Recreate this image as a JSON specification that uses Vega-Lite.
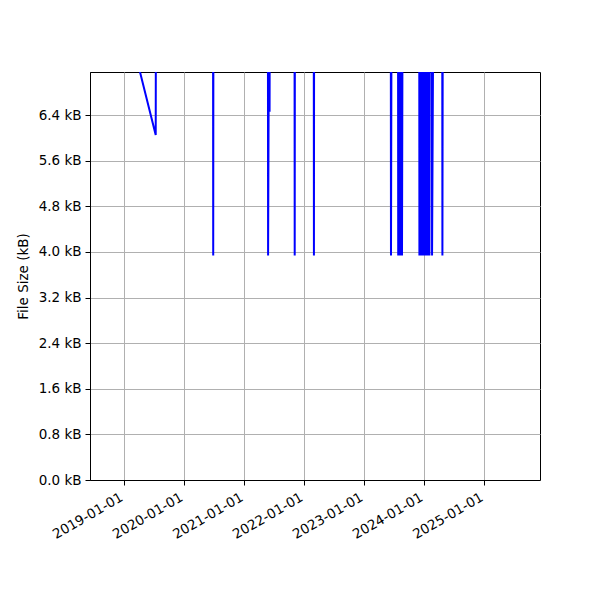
{
  "$schema": "https://vega.github.io/schema/vega-lite/v6.json",
  "width": 450,
  "height": 408,
  "autosize": {"type": "none"},
  "padding": {"left": 90, "top": 72, "right": 60, "bottom": 120},
  "background": "white",
  "config": {
    "view": {"stroke": "black", "strokeWidth": 1},
    "font": "DejaVu Sans",
    "axis": {
      "labelFont": "DejaVu Sans",
      "titleFont": "DejaVu Sans",
      "labelFontSize": 13.5,
      "titleFontSize": 13.5,
      "titleFontWeight": "normal",
      "labelColor": "black",
      "titleColor": "black",
      "domainColor": "black",
      "tickColor": "black",
      "tickSize": 5,
      "gridColor": "#b0b0b0",
      "gridWidth": 1,
      "gridOpacity": 1
    }
  },
  "data": {
    "values": [
      {"date": "2019-01-25", "size": 8.0},
      {"date": "2019-07-13", "size": 6.05},
      {"date": "2019-07-14", "size": 8.0},
      {"date": "2020-06-26", "size": 8.0},
      {"date": "2020-06-27", "size": 3.935},
      {"date": "2020-06-28", "size": 8.0},
      {"date": "2021-05-26", "size": 8.0},
      {"date": "2021-05-27", "size": 3.935},
      {"date": "2021-06-01", "size": 8.0},
      {"date": "2021-06-05", "size": 6.458},
      {"date": "2021-06-06", "size": 8.0},
      {"date": "2021-11-04", "size": 8.0},
      {"date": "2021-11-05", "size": 3.935},
      {"date": "2021-11-06", "size": 8.0},
      {"date": "2022-03-01", "size": 8.0},
      {"date": "2022-03-02", "size": 3.935},
      {"date": "2022-03-03", "size": 8.0},
      {"date": "2023-06-13", "size": 8.0},
      {"date": "2023-06-14", "size": 3.935},
      {"date": "2023-06-17", "size": 8.0},
      {"date": "2023-07-27", "size": 8.0},
      {"date": "2023-07-28", "size": 3.935},
      {"date": "2023-07-30", "size": 8.0},
      {"date": "2023-08-04", "size": 3.935},
      {"date": "2023-08-06", "size": 8.0},
      {"date": "2023-08-12", "size": 3.935},
      {"date": "2023-08-14", "size": 8.0},
      {"date": "2023-08-20", "size": 3.935},
      {"date": "2023-08-23", "size": 8.0},
      {"date": "2023-12-03", "size": 8.0},
      {"date": "2023-12-04", "size": 3.935},
      {"date": "2023-12-07", "size": 8.0},
      {"date": "2023-12-13", "size": 3.935},
      {"date": "2023-12-16", "size": 8.0},
      {"date": "2023-12-22", "size": 3.935},
      {"date": "2023-12-25", "size": 8.0},
      {"date": "2024-01-01", "size": 3.935},
      {"date": "2024-01-04", "size": 8.0},
      {"date": "2024-01-10", "size": 3.935},
      {"date": "2024-01-13", "size": 8.0},
      {"date": "2024-01-19", "size": 3.935},
      {"date": "2024-01-22", "size": 8.0},
      {"date": "2024-01-28", "size": 3.935},
      {"date": "2024-01-31", "size": 8.0},
      {"date": "2024-02-03", "size": 3.935},
      {"date": "2024-02-05", "size": 8.0},
      {"date": "2024-02-18", "size": 8.0},
      {"date": "2024-02-19", "size": 3.935},
      {"date": "2024-02-26", "size": 8.0},
      {"date": "2024-04-21", "size": 8.0},
      {"date": "2024-04-22", "size": 3.935},
      {"date": "2024-04-24", "size": 8.0},
      {"date": "2024-06-01", "size": 8.0}
    ]
  },
  "mark": {"type": "line", "color": "#0000ff", "strokeWidth": 2, "clip": true},
  "encoding": {
    "x": {
      "field": "date",
      "type": "temporal",
      "scale": {
        "type": "utc",
        "domain": [
          {"year": 2018, "month": 6, "date": 8, "utc": true},
          {"year": 2025, "month": 12, "date": 7, "utc": true}
        ],
        "nice": false
      },
      "axis": {
        "title": null,
        "values": [
          {"year": 2019, "month": 1, "date": 1, "utc": true},
          {"year": 2020, "month": 1, "date": 1, "utc": true},
          {"year": 2021, "month": 1, "date": 1, "utc": true},
          {"year": 2022, "month": 1, "date": 1, "utc": true},
          {"year": 2023, "month": 1, "date": 1, "utc": true},
          {"year": 2024, "month": 1, "date": 1, "utc": true},
          {"year": 2025, "month": 1, "date": 1, "utc": true}
        ],
        "format": "%Y-%m-%d",
        "labelAngle": -30,
        "labelAlign": "right",
        "labelBaseline": "top",
        "labelPadding": 5,
        "labelOffset": -6,
        "labelOverlap": false,
        "labelBound": false,
        "grid": true
      }
    },
    "y": {
      "field": "size",
      "type": "quantitative",
      "scale": {"domain": [0, 7.154], "nice": false, "zero": true},
      "axis": {
        "title": "File Size (kB)",
        "values": [0, 0.8, 1.6, 2.4, 3.2, 4.0, 4.8, 5.6, 6.4],
        "labelExpr": "format(datum.value, '.1f') + ' kB'",
        "labelPadding": 4,
        "titlePadding": 8,
        "grid": true
      }
    }
  }
}
